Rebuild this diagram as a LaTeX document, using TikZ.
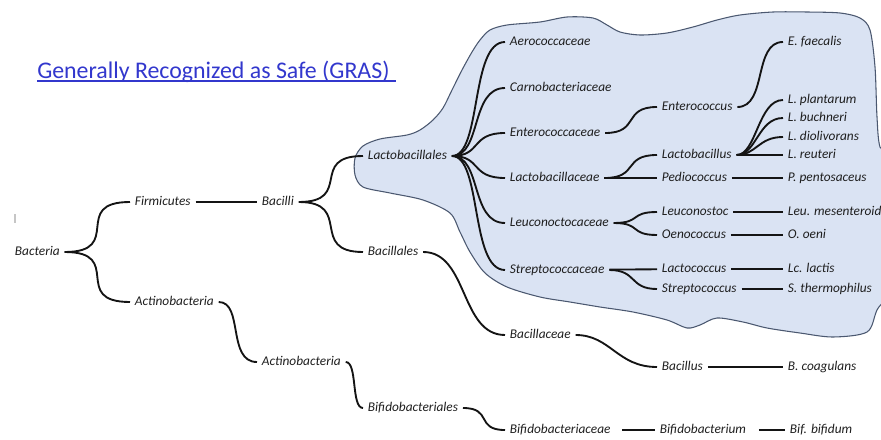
\documentclass[tikz,border=0pt]{standalone}
\usepackage{fontspec}
\setmainfont{Carlito}
\usetikzlibrary{calc}
\definecolor{blobfill}{RGB}{218,227,243}
\definecolor{blobline}{RGB}{75,88,112}
\definecolor{linkblue}{RGB}{50,55,205}
\definecolor{ink}{RGB}{20,20,20}
\definecolor{labtext}{RGB}{30,30,30}
\begin{document}
\begin{tikzpicture}[x=0.75pt,y=-0.75pt,
  lab/.style={anchor=west, font=\fontsize{10}{12}\selectfont\itshape, text=labtext,
              inner xsep=3.5pt, inner ysep=0pt, text height=7pt, text depth=2pt},
  conn/.style={draw=ink, line width=1.4pt},
  blob/.style={draw=blobline, fill=blobfill, line width=0.8pt}]
\useasboundingbox (0,0) rectangle (881,439);

% GRAS region
\path[blob] plot[smooth cycle, tension=0.5] coordinates {
 (490,30) (507,25) (540,22) (567,17) (593,18) (607,25) (620,32) (640,35) (667,33)
 (693,27) (717,20) (740,15) (773,12) (807,12) (840,13) (860,18) (870,30) (875,67)
 (877,117) (880,147) (892,165) (892,280) (877,310) (867,332) (833,337) (800,333)
 (767,328) (743,322) (717,318) (700,325) (687,328) (667,320) (633,312) (600,307)
 (570,302) (540,297) (507,287) (485,273) (470,252) (460,232) (450,213) (423,200)
 (390,193) (363,187) (355,175) (355,158) (363,146) (380,139) (407,135) (420,130)
 (433,120) (443,108) (452,90) (462,70) (472,52) (480,40)};

% title
\node[anchor=base west, inner sep=0pt, text=linkblue, font=\fontsize{17.9}{20}\selectfont] (title) at (37,78) {Generally Recognized as Safe (GRAS)};
\draw[linkblue, line width=0.9pt] ($(title.base west)+(0,3)$) coordinate (ul1) -- ($(title.base east)+(6,3)$) coordinate (ul2);

% small tick mark
\draw[gray!45, line width=0.8pt] (15,214) coordinate (tk1) -- (15,223) coordinate (tk2);

% labels
\node[lab] (bac)  at (10,252)  {Bacteria};
\node[lab] (fir)  at (130,202) {Firmicutes};
\node[lab] (act1) at (130,302) {Actinobacteria};
\node[lab] (bci)  at (257,202) {Bacilli};
\node[lab] (act2) at (257,362) {Actinobacteria};
\node[lab] (lbl)  at (363,156) {Lactobacillales};
\node[lab] (bcl)  at (363,252) {Bacillales};
\node[lab] (bfl)  at (363,408) {Bifidobacteriales};
\node[lab] (aer)  at (505,42)  {Aerococcaceae};
\node[lab] (car)  at (505,88)  {Carnobacteriaceae};
\node[lab] (ent)  at (505,133) {Enterococcaceae};
\node[lab] (lbc)  at (505,178) {Lactobacillaceae};
\node[lab] (leu)  at (505,223) {Leuconoctocaceae};
\node[lab] (str)  at (505,270) {Streptococcaceae};
\node[lab] (bce)  at (505,335) {Bacillaceae};
\node[lab] (bfc)  at (505,430) {Bifidobacteriaceae};
\node[lab] (entg) at (657,107) {Enterococcus};
\node[lab] (lbg)  at (657,155) {Lactobacillus};
\node[lab] (ped)  at (657,178) {Pediococcus};
\node[lab] (leug) at (657,212) {Leuconostoc};
\node[lab] (oen)  at (657,235) {Oenococcus};
\node[lab] (lcg)  at (657,269) {Lactococcus};
\node[lab] (stg)  at (657,289) {Streptococcus};
\node[lab] (bcg)  at (657,367) {Bacillus};
\node[lab] (bfg)  at (655,430) {Bifidobacterium};
\node[lab] (efa)  at (783,42)  {E. faecalis};
\node[lab] (lpl)  at (783,100) {L. plantarum};
\node[lab] (lbu)  at (783,118) {L. buchneri};
\node[lab] (ldi)  at (783,137) {L. diolivorans};
\node[lab] (lre)  at (783,155) {L. reuteri};
\node[lab] (ppe)  at (783,178) {P. pentosaceus};
\node[lab] (lme)  at (783,212) {Leu. mesenteroides};
\node[lab] (ooe)  at (783,235) {O. oeni};
\node[lab] (lla)  at (783,269) {Lc. lactis};
\node[lab] (sth)  at (783,289) {S. thermophilus};
\node[lab] (bco)  at (783,367) {B. coagulans};
\node[lab] (bbi)  at (785,430) {Bif. bifidum};

% connectors
\draw[conn] (bac.east) .. controls +(60,0) and +(-60,0) .. (fir.west);
\draw[conn] (bac.east) .. controls +(60,0) and +(-60,0) .. (act1.west);
\draw[conn] (fir) -- (bci);
\draw[conn] (bci.east) .. controls +(55,0) and +(-55,0) .. (lbl.west);
\draw[conn] (bci.east) .. controls +(55,0) and +(-55,0) .. (bcl.west);
\draw[conn] (act1.east) .. controls +(25,0) and +(-30,0) .. (act2.west);
\draw[conn] (act2.east) .. controls +(12,0) and +(-12,0) .. (bfl.west);
\draw[conn] (bfl.east) .. controls +(30,0) and +(-30,0) .. (bfc.west);
\draw[conn] (bcl.east) .. controls +(45,0) and +(-45,0) .. (bce.west);
\draw[conn] (bce.east) .. controls +(35,0) and +(-40,0) .. (bcg.west);
\draw[conn] (bcg) -- (bco);
\draw[conn, shorten <=5pt] (bfc) -- (bfg);
\draw[conn, shorten <=6pt] (bfg) -- (bbi);

\foreach \t in {aer,car,ent,lbc,leu,str}
  \draw[conn] (lbl.east) .. controls +(30,0) and +(-35,0) .. (\t.west);

\draw[conn] (ent.east) .. controls +(35,0) and +(-35,0) .. (entg.west);
\draw[conn] (entg.east) .. controls +(30,0) and +(-30,0) .. (efa.west);
\draw[conn] (lbc.east) .. controls +(35,0) and +(-35,0) .. (lbg.west);
\draw[conn] (lbc) -- (ped);
\foreach \t in {lpl,lbu,ldi}
  \draw[conn] (lbg.east) .. controls +(20,0) and +(-25,0) .. (\t.west);
\draw[conn] (lbg) -- (lre);
\draw[conn] (ped) -- (ppe);
\draw[conn] (leu.east) .. controls +(28,0) and +(-28,0) .. (leug.west);
\draw[conn] (leu.east) .. controls +(28,0) and +(-28,0) .. (oen.west);
\draw[conn] (leug) -- (lme);
\draw[conn] (oen) -- (ooe);
\draw[conn] (str) -- (lcg);
\draw[conn] (str.east) .. controls +(28,0) and +(-28,0) .. (stg.west);
\draw[conn] (lcg) -- (lla);
\draw[conn] (stg) -- (sth);
\end{tikzpicture}
\end{document}
